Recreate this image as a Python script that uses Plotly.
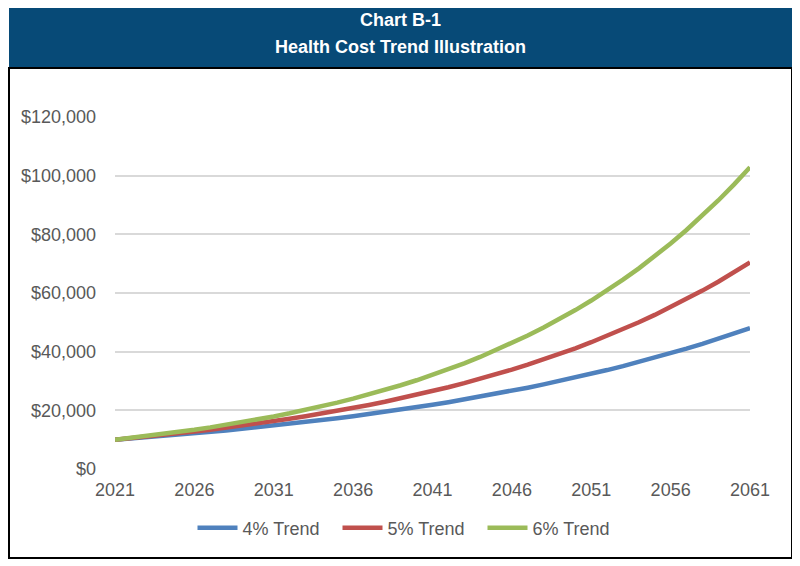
import plotly.graph_objects as go

years = list(range(2021, 2062))
trend_4 = [10000, 10400, 10816, 11249, 11699, 12167, 12653, 13159, 13686, 14233,
           14802, 15395, 16010, 16651, 17317, 18009, 18730, 19479, 20258, 21068,
           21911, 22788, 23699, 24647, 25633, 26658, 27725, 28834, 29987, 31187,
           32434, 33731, 35081, 36484, 37943, 39461, 41039, 42681, 44388, 46164, 48010]
trend_5 = [10000, 10500, 11025, 11576, 12155, 12763, 13401, 14071, 14775, 15513,
           16289, 17103, 17959, 18856, 19799, 20789, 21829, 22920, 24066, 25270,
           26533, 27860, 29253, 30715, 32251, 33864, 35557, 37335, 39201, 41161,
           43219, 45380, 47649, 50032, 52533, 55160, 57918, 60814, 63855, 67048, 70400]
trend_6 = [10000, 10600, 11236, 11910, 12625, 13382, 14185, 15036, 15938, 16895,
           17908, 18983, 20122, 21329, 22609, 23966, 25404, 26928, 28543, 30256,
           32071, 33996, 36035, 38197, 40489, 42919, 45494, 48223, 51117, 54184,
           57435, 60881, 64534, 68406, 72510, 76861, 81473, 86361, 91543, 97035, 102857]
series_names = ["4% Trend", "5% Trend", "6% Trend"]
series_colors = ["#4F81BD", "#C0504D", "#9BBB59"]
x_ticks = [2021, 2026, 2031, 2036, 2041, 2046, 2051, 2056, 2061]
y_ticks = [0, 20000, 40000, 60000, 80000, 100000, 120000]
title_lines = ["Chart B-1", "Health Cost Trend Illustration"]

fig = go.Figure()
for name, vals, col in zip(series_names, [trend_4, trend_5, trend_6], series_colors):
    fig.add_trace(go.Scatter(x=years, y=vals, mode="lines", name=name,
                             line=dict(color=col, width=4.5), cliponaxis=False))

OFF = 8  # page body margin
W, H = 800, 566
L, T = 115 - OFF, 117 - OFF
pw, ph = 635, 352
R, B = W - L - pw, H - T - ph

def px(x):
    return (x - OFF - L) / pw

def py(y):
    return (T + ph - (y - OFF)) / ph

shapes = [
    dict(type="rect", xref="paper", yref="paper", x0=px(9), x1=px(792), y0=py(68), y1=py(8),
         fillcolor="#074A77", line=dict(width=0), layer="below"),
    dict(type="rect", xref="paper", yref="paper", x0=px(9), x1=px(792), y0=py(558), y1=py(68),
         line=dict(color="#000000", width=2)),
]

annotations = [
    dict(text="<b>" + title_lines[0] + "</b>", xref="paper", yref="paper", x=px(400), y=py(20),
         showarrow=False, font=dict(family="Arial, Liberation Sans", size=18, color="white"),
         xanchor="center", yanchor="middle"),
    dict(text="<b>" + title_lines[1] + "</b>", xref="paper", yref="paper", x=px(400), y=py(47),
         showarrow=False, font=dict(family="Arial, Liberation Sans", size=18, color="white"),
         xanchor="center", yanchor="middle"),
]

fig.update_layout(
    width=W, height=H,
    margin=dict(l=L, r=R, t=T, b=B),
    paper_bgcolor="white", plot_bgcolor="white",
    font=dict(family="Arial, Liberation Sans", size=18, color="#595959"),
    shapes=shapes, annotations=annotations,
    showlegend=True,
    legend=dict(orientation="h", x=px(410), xanchor="center", y=py(528), yanchor="middle",
                font=dict(size=18, color="#595959"), itemwidth=40,
                entrywidth=90, entrywidthmode="pixels"),
    xaxis=dict(range=[2021, 2061], tickvals=x_ticks, ticktext=[str(v) for v in x_ticks],
               showgrid=False, zeroline=False, showline=False, ticks="",
               ticklabelstandoff=8, tickfont=dict(size=18, color="#595959")),
    yaxis=dict(range=[0, 120000], tickvals=y_ticks, tickformat="$,.0f",
               showgrid=True, gridcolor="#D9D9D9", gridwidth=1.5, zeroline=False,
               showline=False, ticks="", ticklabelstandoff=18,
               tickfont=dict(size=18, color="#595959")),
)

fig.write_html("out.html")
